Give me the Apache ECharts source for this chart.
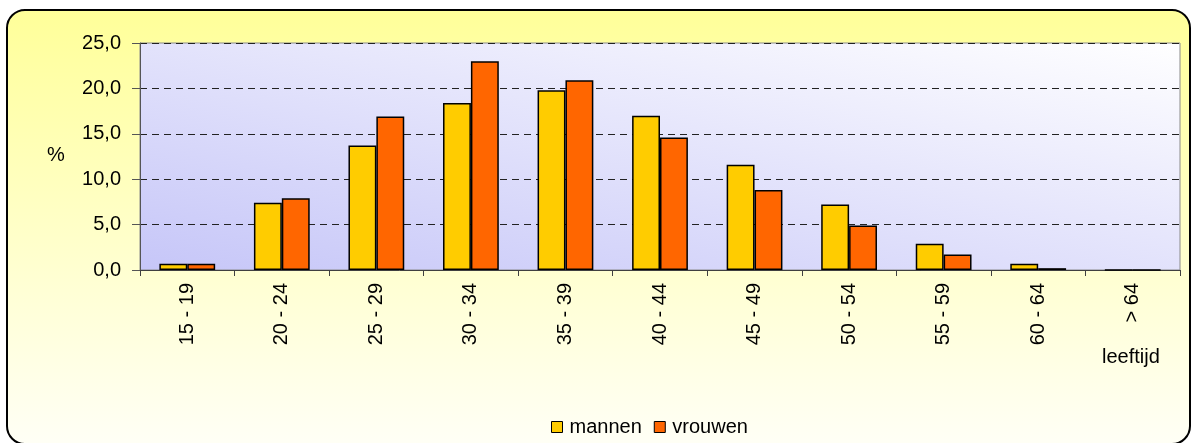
<!DOCTYPE html>
<html>
<head>
<meta charset="utf-8">
<script src="https://cdn.jsdelivr.net/npm/echarts@6/dist/echarts.min.js"></script>
<style>
  html, body { margin: 0; padding: 0; background: #ffffff; }
  #chart { width: 1192px; height: 443px; }
</style>
</head>
<body>
<div id="chart"></div>
<script>
// Leeftijdsverdeling (%) per geslacht
const ageGroups = ['15 - 19', '20 - 24', '25 - 29', '30 - 34', '35 - 39', '40 - 44',
                   '45 - 49', '50 - 54', '55 - 59', '60 - 64', '> 64'];
const mannen  = [0.7, 7.4, 13.7, 18.4, 19.8, 17.0, 11.6, 7.2, 2.9, 0.7, 0.0];
const vrouwen = [0.7, 7.9, 16.9, 23.0, 20.9, 14.6, 8.8, 4.9, 1.7, 0.2, 0.0];
const yTicks = { min: 0, max: 25, step: 5 };

const FONT = '"Liberation Sans", Arial, sans-serif';
const FS = 20;
const chart = echarts.init(document.getElementById('chart'), null, { renderer: 'canvas' });

chart.setOption({
  animation: false,
  textStyle: { fontFamily: FONT, color: '#000' },
  graphic: [
    {
      // rounded chart frame with a soft yellow fill
      type: 'rect', z: -10, silent: true,
      shape: { x: 7, y: 10, width: 1183, height: 434, r: 18 },
      style: {
        fill: new echarts.graphic.LinearGradient(0, 0, 0, 1, [
          { offset: 0, color: '#FFFF99' },
          { offset: 1, color: '#FFFFF6' }
        ]),
        stroke: '#000', lineWidth: 2
      }
    },
    {
      type: 'text', left: 47, top: 145,
      style: { text: '%', font: FS + 'px ' + FONT, fill: '#000' }
    },
    {
      type: 'text', left: 1102, top: 347,
      style: { text: 'leeftijd', font: FS + 'px ' + FONT, fill: '#000' }
    }
  ],
  grid: {
    left: 140, top: 43, right: 12, bottom: 173,
    show: true,
    borderColor: '#8a8a8a', borderWidth: 1,
    // diagonal wash: lavender lower-left fading to white upper-right
    backgroundColor: new echarts.graphic.LinearGradient(0, 1, 0.091, -0.909, [
      { offset: 0, color: '#C6C6F8' },
      { offset: 1, color: '#FFFFFF' }
    ])
  },
  legend: {
    left: 546, top: 412,
    itemWidth: 11, itemHeight: 11, itemGap: 12,
    icon: 'rect',
    textStyle: { fontSize: FS, fontFamily: FONT, color: '#000', padding: [0, 0, 0, 2] },
    itemStyle: { borderColor: '#000', borderWidth: 1 },
    data: ['mannen', 'vrouwen']
  },
  xAxis: {
    type: 'category',
    data: ageGroups,
    axisLine: { lineStyle: { color: '#404040', width: 1 } },
    axisTick: { show: true, length: 6, inside: false, lineStyle: { color: '#404040' } },
    axisLabel: { rotate: 90, margin: 13, fontSize: FS, fontFamily: FONT, color: '#000' },
    splitLine: { show: false }
  },
  yAxis: {
    type: 'value',
    min: yTicks.min, max: yTicks.max, interval: yTicks.step,
    axisLine: { show: true, lineStyle: { color: '#555', width: 1 } },
    axisTick: { show: true, length: 8, lineStyle: { color: '#555' } },
    axisLabel: {
      margin: 19, fontSize: FS, fontFamily: FONT, color: '#000',
      formatter: v => v.toFixed(1).replace('.', ',')
    },
    splitLine: { show: true, lineStyle: { color: '#222', type: [7, 5], width: 1 } }
  },
  series: [
    {
      name: 'mannen', type: 'bar', data: mannen,
      barGap: '0%', barCategoryGap: '41%',
      itemStyle: { color: '#FFCC00', borderColor: '#000', borderWidth: 1.5 }
    },
    {
      name: 'vrouwen', type: 'bar', data: vrouwen,
      barGap: '0%', barCategoryGap: '41%',
      itemStyle: { color: '#FF6600', borderColor: '#000', borderWidth: 1.5 }
    }
  ]
});
</script>
</body>
</html>
